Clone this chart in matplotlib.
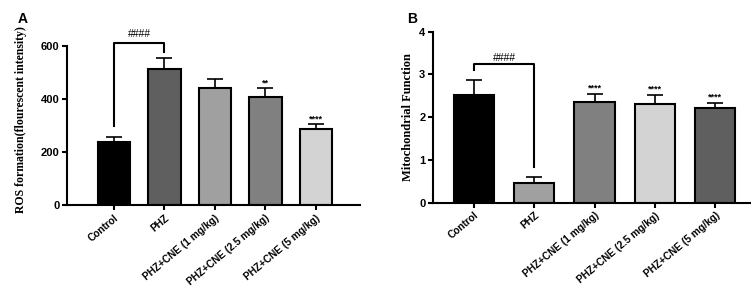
import matplotlib.pyplot as plt
import numpy as np

groups = ['Control', 'PHZ', 'PHZ+CNE (1 mg/kg)', 'PHZ+CNE (2.5 mg/kg)', 'PHZ+CNE (5 mg/kg)']

# panel A - ROS formation
ros_mean = [236, 513, 441, 406, 286]
ros_err = [21, 40, 34, 34, 18]
ros_colors = ['#000000', '#5f5f5f', '#a0a0a0', '#808080', '#d3d3d3']
ros_stars = ['', '', '', '**', '****']

# panel B - mitochondrial function
mito_mean = [2.53, 0.46, 2.36, 2.31, 2.21]
mito_err = [0.34, 0.15, 0.18, 0.21, 0.13]
mito_colors = ['#000000', '#a0a0a0', '#808080', '#d3d3d3', '#5f5f5f']
mito_stars = ['', '', '****', '****', '****']

plt.rcParams['font.family'] = ['Liberation Sans', 'DejaVu Sans']

fig = plt.figure(figsize=(7.51, 2.94), dpi=100)
axA = fig.add_axes([0.0892, 0.3027, 0.390, 0.5408])
axB = fig.add_axes([0.5766, 0.3105, 0.4221, 0.5815])


def draw_panel(ax, means, errs, colors, stars, width, ylim, yticks, ylabel, star_off, lab_size):
    x = np.arange(len(groups))
    ax.bar(x, means, width=width, color=colors, edgecolor='black', linewidth=1.5, zorder=2)
    ax.errorbar(x, means, yerr=[np.zeros(len(errs)), errs], fmt='none', ecolor='black',
                elinewidth=1.2, capsize=6, capthick=1.2, zorder=1)
    for xi, m, e, s in zip(x, means, errs, stars):
        if s:
            ax.text(xi, m + e + star_off, s, ha='center', va='bottom', fontsize=6.5,
                    fontweight='bold')
    ax.set_ylim(*ylim)
    ax.set_yticks(yticks)
    ax.set_xticks(x)
    ax.set_xticklabels(groups, rotation=40, ha='right', rotation_mode='anchor',
                       fontsize=7.3, fontweight='bold')
    for lbl in ax.get_yticklabels():
        lbl.set_fontweight('bold')
        lbl.set_fontsize(8)
    ax.spines['top'].set_visible(False)
    ax.spines['right'].set_visible(False)
    ax.spines['left'].set_linewidth(1.5)
    ax.spines['bottom'].set_linewidth(1.5)
    ax.tick_params(axis='both', width=1.5, length=3.5, pad=2)
    ax.set_ylabel(ylabel, fontfamily='Liberation Serif', fontweight='bold', fontsize=lab_size)


draw_panel(axA, ros_mean, ros_err, ros_colors, ros_stars, 0.65, (0, 600),
           [0, 200, 400, 600], 'ROS formation(flourescent intensity)', 4, 8.5)
axA.set_xlim(-0.93, 4.87)
axA.yaxis.set_label_coords(-0.135, 0.54)
axA.plot([0, 0, 1, 1], [300, 612, 612, 578], color='black', lw=1.5, clip_on=False)
axA.text(0.5, 625, '####', ha='center', va='bottom', fontsize=7.5, clip_on=False)

draw_panel(axB, mito_mean, mito_err, mito_colors, mito_stars, 0.67, (0, 4),
           [0, 1, 2, 3, 4], 'Mitochondrial Function', 0.03, 9)
axB.set_xlim(-0.68, 4.58)
axB.yaxis.set_label_coords(-0.06, 0.5)
axB.plot([0, 0, 1, 1], [3.1, 3.24, 3.24, 0.84], color='black', lw=1.5)
axB.text(0.5, 3.28, '####', ha='center', va='bottom', fontsize=7.5)

fig.text(0.023, 0.935, 'A', fontsize=10, fontweight='bold', ha='left', va='center')
fig.text(0.542, 0.935, 'B', fontsize=10, fontweight='bold', ha='left', va='center')

fig.savefig('out.png', dpi=100)
